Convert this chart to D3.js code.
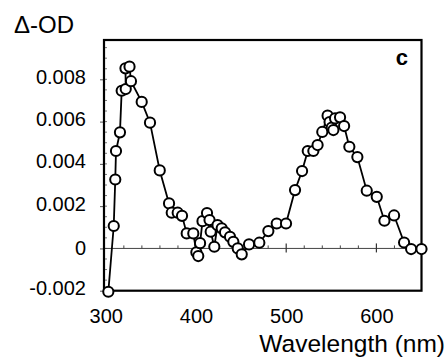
<!DOCTYPE html>
<html>
<head>
<meta charset="utf-8">
<script src="https://cdn.jsdelivr.net/npm/d3@7"></script>
<style>
  body { margin: 0; background: #fff; }
  svg { display: block; font-family: "Liberation Sans", Arial, Helvetica, sans-serif; }
</style>
</head>
<body>
<div id="chart"></div>
<script>
    "use strict";

    //Wavelength (nm) and delta-OD in drawing order
    var wavelength = [302.8, 308.8, 310.5, 311.3, 315.7, 317.6, 322.1, 321.8, 326.3, 327.9,
        339.8, 349, 359.8, 370.1, 373.1, 379.7, 384.5, 389.7, 397, 400.4,
        402.5, 404.5, 407.2, 412.2, 415, 416.3, 420.3, 423.9, 428.5, 432.2,
        437.7, 441.4, 446.3, 450.7, 458.8, 470.2, 480.2, 489.5, 499.8, 509.8,
        517.6, 523.9, 530.1, 534.8, 540, 545.9, 548.1, 550.5, 552.3, 554.2,
        559.7, 564.2, 570, 578.9, 589.3, 600.4, 608.9, 619.6, 630.7, 638.5, 650];
    var deltaOD = [-0.00205, 0.00106, 0.00326, 0.00461, 0.00549, 0.00746, 0.00754, 0.00852, 0.0086, 0.00791,
        0.00693, 0.00595, 0.00369, 0.00213, 0.00169, 0.00169, 0.00154, 0.00071, 0.00071, -0.00018,
        -0.00036, 0.00025, 0.00129, 0.00167, 0.00134, 0.00079, 0.00008, 0.0011, 0.00095, 0.00076,
        0.00055, 0.00031, 0.0, -0.00028, 0.00019, 0.00027, 0.00082, 0.00118, 0.00118, 0.00276,
        0.00366, 0.00461, 0.00461, 0.00489, 0.00551, 0.00628, 0.00598, 0.00572, 0.0056, 0.00615,
        0.0062, 0.00579, 0.00481, 0.00432, 0.00273, 0.00244, 0.00131, 0.00156, 0.00028, -0.00003, -0.00003];

    var xTicks = [300, 400, 500, 600];
    var yTicks = [-0.002, 0, 0.002, 0.004, 0.006, 0.008];
    var yTickLabels = ["-0.002", "0", "0.002", "0.004", "0.006", "0.008"];

    (function () {

        var width = 445, height = 358;
        var mLeft = 104, mRight = 421.5, mTop = 40, mBottom = 290.7;

        var x = d3.scaleLinear().domain([298, 650]).range([mLeft, mRight]);
        var y = d3.scaleLinear().domain([-0.002, 0.00986]).range([mBottom, mTop]);

        var svg = d3.select("#chart").append("svg")
            .attr("width", width)
            .attr("height", height);

        //Minor ticks inside the left edge
        var minorY = d3.range(-0.0015, 0.0096, 0.0005);
        svg.append("g").selectAll("line")
            .data(minorY)
            .enter().append("line")
            .attr("x1", mLeft).attr("x2", mLeft + 3)
            .attr("y1", function (d) { return y(d); })
            .attr("y2", function (d) { return y(d); })
            .attr("stroke", "#777").attr("stroke-width", 1);

        //Zero line with its ticks
        svg.append("line")
            .attr("x1", mLeft).attr("x2", mRight)
            .attr("y1", y(0)).attr("y2", y(0))
            .attr("stroke", "#444").attr("stroke-width", 1);

        var minorX = d3.range(320, 650, 20).filter(function (d) { return d % 100 != 0; });
        svg.append("g").selectAll("line")
            .data(minorX)
            .enter().append("line")
            .attr("x1", function (d) { return x(d); })
            .attr("x2", function (d) { return x(d); })
            .attr("y1", y(0)).attr("y2", y(0) - 3)
            .attr("stroke", "#444").attr("stroke-width", 1);

        svg.append("g").selectAll("line")
            .data([400, 500, 600])
            .enter().append("line")
            .attr("x1", function (d) { return x(d); })
            .attr("x2", function (d) { return x(d); })
            .attr("y1", y(0) - 5).attr("y2", y(0) + 4)
            .attr("stroke", "#333").attr("stroke-width", 1.2);

        //Left axis: outward major ticks and labels
        var yAxis = d3.axisLeft(y)
            .tickValues(yTicks)
            .tickSize(4)
            .tickPadding(14)
            .tickFormat(function (d, i) { return yTickLabels[i]; });

        var gy = svg.append("g")
            .attr("transform", "translate(" + mLeft + ",0)")
            .call(yAxis);
        gy.select(".domain").remove();
        gy.selectAll(".tick line").attr("stroke", "#555");
        gy.selectAll(".tick text")
            .attr("font-size", 20)
            .attr("fill", "#000")
            .attr("font-family", "Liberation Sans, Arial, sans-serif")
            .attr("dy", function (d) { return d == 0 ? "0.32em" : "0.2em"; });

        //Bottom labels
        var xAxis = d3.axisBottom(x)
            .tickValues(xTicks)
            .tickSize(0)
            .tickPadding(18);

        var gx = svg.append("g")
            .attr("transform", "translate(0," + mBottom + ")")
            .call(xAxis);
        gx.select(".domain").remove();
        gx.selectAll(".tick text")
            .attr("font-size", 20)
            .attr("fill", "#000")
            .attr("font-family", "Liberation Sans, Arial, sans-serif");

        //Frame
        svg.append("rect")
            .attr("x", mLeft).attr("y", mTop)
            .attr("width", mRight - mLeft).attr("height", mBottom - mTop)
            .attr("fill", "none")
            .attr("stroke", "#000").attr("stroke-width", 2.2);

        //Data
        var points = wavelength.map(function (w, i) { return [w, deltaOD[i]]; });

        var line = d3.line()
            .x(function (d) { return x(d[0]); })
            .y(function (d) { return y(d[1]); });

        svg.append("path")
            .datum(points)
            .attr("d", line)
            .attr("fill", "none")
            .attr("stroke", "#000")
            .attr("stroke-width", 1.8);

        svg.append("g").selectAll("circle")
            .data(points)
            .enter().append("circle")
            .attr("cx", function (d) { return x(d[0]); })
            .attr("cy", function (d) { return y(d[1]); })
            .attr("r", 5.1)
            .attr("fill", "#fff")
            .attr("stroke", "#000")
            .attr("stroke-width", 2);

        //Text
        svg.append("text")
            .attr("x", 14).attr("y", 33)
            .attr("font-size", 24)
            .text("\u0394-OD");

        svg.append("text")
            .attr("x", 408).attr("y", 65)
            .attr("text-anchor", "end")
            .attr("font-size", 22)
            .attr("font-weight", "bold")
            .text("c");

        svg.append("text")
            .attr("x", 445).attr("y", 352)
            .attr("text-anchor", "end")
            .attr("font-size", 24.5)
            .text("Wavelength (nm)");
    })();
</script>
</body>
</html>
